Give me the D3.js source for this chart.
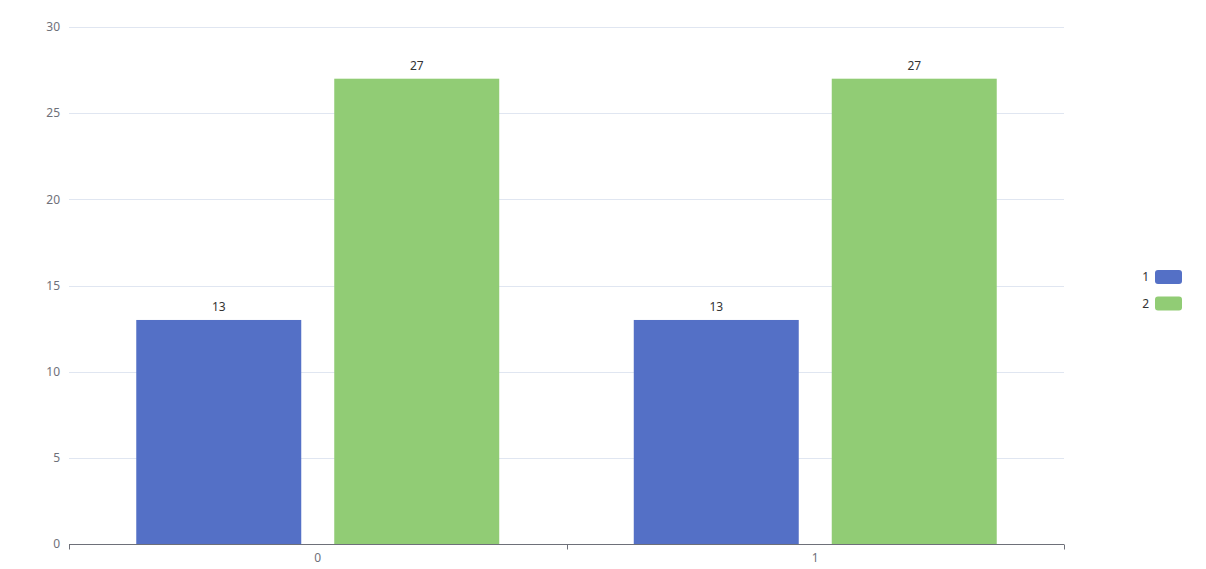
<!DOCTYPE html>
<html><head><meta charset="utf-8">
<script src="https://cdn.jsdelivr.net/npm/d3@7"></script>
<style>body{margin:0;background:#fff;} text{font-family:"Noto Sans","Open Sans",sans-serif;font-size:12px;}</style>
</head><body>
<svg id="c" width="1206" height="569"></svg>
<script>
const categories = ["0", "1"];
const seriesNames = ["1", "2"];
const series1 = [13, 13];
const series2 = [27, 27];
const yTicks = [0, 5, 10, 15, 20, 25, 30];
const colors = ["#5470c6", "#91cc75"];

(function () {
const svg = d3.select("#c");
const gLeft = 69, gRight = 1064, gTop = 27, gBottom = 544;
const x0 = d3.scaleBand().domain(categories).range([gLeft, gRight]).padding(0);
const bw = x0.bandwidth();
const x1 = d3.scaleBand().domain(seriesNames).range([bw * 0.1352, bw * 0.8648]).paddingInner(1/6).paddingOuter(0);
const y = d3.scaleLinear().domain([0, 30]).range([gBottom, gTop]);

// grid
svg.append("g").selectAll("line").data(yTicks.filter(d => d > 0)).join("line")
  .attr("x1", gLeft).attr("x2", gRight)
  .attr("y1", d => Math.round(y(d)) + 0.5).attr("y2", d => Math.round(y(d)) + 0.5)
  .attr("stroke", "#E0E6F1");

// y labels
svg.append("g").selectAll("text").data(yTicks).join("text")
  .attr("x", 60).attr("y", d => y(d)).attr("dy", "0.35em")
  .attr("text-anchor", "end").attr("fill", "#6E7079").text(d => d);

// bars
const data = [series1, series2];
data.forEach((vals, si) => {
  svg.append("g").selectAll("rect").data(categories).join("rect")
    .attr("x", (c) => x0(c) + x1(seriesNames[si]))
    .attr("width", x1.bandwidth())
    .attr("y", (c, i) => y(vals[i]))
    .attr("height", (c, i) => y(0) - y(vals[i]))
    .attr("fill", colors[si]);
  svg.append("g").selectAll("text").data(categories).join("text")
    .attr("x", (c) => x0(c) + x1(seriesNames[si]) + x1.bandwidth() / 2)
    .attr("y", (c, i) => y(vals[i]) - 9)
    .attr("text-anchor", "middle").attr("fill", "#333").text((c, i) => vals[i]);
});

// x axis
const xAxis = d3.axisBottom(x0).tickSize(0).tickPadding(9);
const ax = svg.append("g").attr("transform", `translate(0,${gBottom + 0.5})`).call(xAxis);
ax.select(".domain").attr("stroke", "#6E7079").attr("d", `M${gLeft},0H${gRight}`);
ax.selectAll("text").attr("fill", "#6E7079").style("font-size", "12px").style("font-family", '"Noto Sans","Open Sans",sans-serif');
const tickPos = [gLeft, ...categories.map(c => x0(c) + bw)];
ax.selectAll(".tk").data(tickPos).join("line").attr("class", "tk")
  .attr("x1", d => Math.round(d) + 0.5).attr("x2", d => Math.round(d) + 0.5)
  .attr("y1", 0).attr("y2", 5).attr("stroke", "#6E7079");

// legend
const lg = svg.append("g");
seriesNames.forEach((s, i) => {
  const yy = 270 + i * 26.5;
  lg.append("rect").attr("x", 1155).attr("y", yy).attr("width", 27).attr("height", 14)
    .attr("rx", 3).attr("fill", colors[i]);
  lg.append("text").attr("x", 1149).attr("y", yy + 7).attr("dy", "0.35em")
    .attr("text-anchor", "end").attr("fill", "#333").text(s);
});
})();
</script>
</body></html>
